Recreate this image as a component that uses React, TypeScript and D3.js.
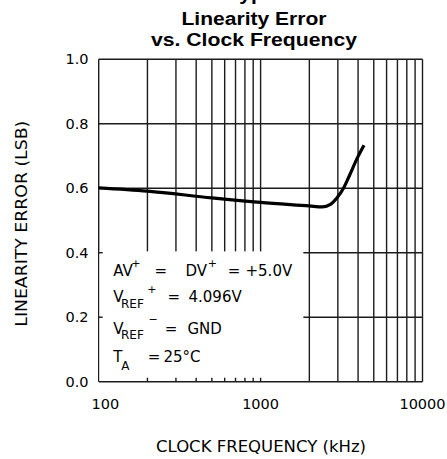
import { useMemo } from 'react';
import * as d3 from 'd3';

// values
const freqKHz = [100, 200, 500, 1000, 2000, 2400, 2700, 2950, 3250, 3550, 3900, 4350];
const linErrLSB = [0.601, 0.591, 0.57, 0.556, 0.545, 0.542, 0.55, 0.569, 0.6, 0.641, 0.687, 0.733];

const yTicks = [0, 0.2, 0.4, 0.6, 0.8, 1.0];
const xLabels = [100, 1000, 10000];

const W = 447;
const H = 459;
const INK = '#1c1c1c';
const mono = '"DejaVu Sans", sans-serif';
const bold = '"Liberation Sans", Arial, sans-serif';

export default function App() {
  const x = d3.scaleLog().domain([100, 10000]).range([98.7, 422.5]);
  const y = d3.scaleLinear().domain([0, 1]).range([381.7, 59.2]);

  // log grid: 1..9 in each decade
  const xGrid = x.ticks();
  const innerX = xGrid.filter((d) => d > 100 && d <= 1000);

  const path = useMemo(() => {
    const line = d3
      .line<number>()
      .x((_, i) => x(freqKHz[i]))
      .y((d) => y(d))
      .curve(d3.curveMonotoneX);
    return line(linErrLSB) ?? '';
  }, []);

  // white box that holds the conditions text
  const boxX0 = x(100) + 0.8;
  const boxX1 = x(2000) - 6;
  const boxY0 = y(0.4) - 1.3;
  const boxY1 = y(0) - 0.8;

  return (
    <svg
      width={W}
      height={H}
      style={{ position: 'absolute', left: 0, top: 0, background: '#fff' }}>
      {/* heading of the page above, mostly cut off */}
      <text x={228} y={-0.5} fontFamily={bold} fontWeight='bold' fontSize={21} fill='#000'>
        Typical Performance Characteristics
      </text>
      <text
        x={254}
        y={25}
        textAnchor='middle'
        fontFamily={bold}
        fontWeight='bold'
        fontSize={18}
        textLength={145}
        lengthAdjust='spacingAndGlyphs'
        fill='#000'>
        Linearity Error
      </text>
      <text
        x={254}
        y={45.5}
        textAnchor='middle'
        fontFamily={bold}
        fontWeight='bold'
        fontSize={18}
        textLength={206}
        lengthAdjust='spacingAndGlyphs'
        fill='#000'>
        vs. Clock Frequency
      </text>

      {/* grid */}
      <g stroke={INK} strokeWidth={1.4} fill='none'>
        {xGrid.map((d) => (
          <line key={'v' + d} x1={x(d)} x2={x(d)} y1={y(1)} y2={y(0)} />
        ))}
        {yTicks.map((d) => (
          <line key={'h' + d} x1={x(100)} x2={x(10000)} y1={y(d)} y2={y(d)} />
        ))}
      </g>

      <rect x={boxX0} y={boxY0} width={boxX1 - boxX0} height={boxY1 - boxY0} fill='#fff' />

      {/* ticks left visible round the box */}
      <g stroke={INK} strokeWidth={1.4}>
        {[0.2, 0.4].map((d) => (
          <line key={'lt' + d} x1={x(100)} x2={x(100) + 4} y1={y(d)} y2={y(d)} />
        ))}
        {innerX.map((d) => (
          <line key={'bt' + d} x1={x(d)} x2={x(d)} y1={y(0)} y2={y(0) - 4} />
        ))}
      </g>

      <path d={path} fill='none' stroke='#000' strokeWidth={3.2} />

      {/* conditions */}
      <g fontFamily={mono} fill='#000'>
        <text fontSize={15} y={275.5}>
          <tspan x={113.3}>AV</tspan>
          <tspan x={131.2} y={267} fontSize={11}>+</tspan>
          <tspan x={154.5} y={275.5}>=</tspan>
          <tspan x={185.5}>DV</tspan>
          <tspan x={207.8} y={267} fontSize={11}>+</tspan>
          <tspan x={227.8} y={275.5}>=</tspan>
          <tspan x={245.5}>+5.0V</tspan>
        </text>
        <text fontSize={15} y={302}>
          <tspan x={113.3}>V</tspan>
          <tspan x={121} y={307.8} fontSize={12}>REF</tspan>
          <tspan x={147.2} y={293} fontSize={11}>+</tspan>
          <tspan x={167.5} y={302}>=</tspan>
          <tspan x={188.5}>4.096V</tspan>
        </text>
        <text fontSize={15} y={333.5}>
          <tspan x={113.3}>V</tspan>
          <tspan x={121} y={339.3} fontSize={12}>REF</tspan>
          <tspan x={148.5} y={322.5} fontSize={11}>−</tspan>
          <tspan x={164.8} y={333.5}>=</tspan>
          <tspan x={187.5}>GND</tspan>
        </text>
        <text fontSize={15} y={362}>
          <tspan x={113.3}>T</tspan>
          <tspan x={121.2} y={370} fontSize={12}>A</tspan>
          <tspan x={147.8} y={362}>=</tspan>
          <tspan x={163.5}>25°C</tspan>
        </text>
      </g>

      {/* axes labels */}
      <g fontFamily={mono} fontSize={14.5} fill='#000'>
        {yTicks.map((d) => (
          <text key={'yl' + d} x={88.5} y={y(d) + 5.2} textAnchor='end'>
            {d.toFixed(1)}
          </text>
        ))}
        {xLabels.map((d, i) => (
          <text key={'xl' + d} x={x(d)} dx={i === 0 ? 6.6 : 0} y={409} textAnchor='middle'>
            {d}
          </text>
        ))}
      </g>
      <text
        x={261}
        y={451.5}
        textAnchor='middle'
        fontFamily={mono}
        fontSize={16}
        textLength={210}
        lengthAdjust='spacingAndGlyphs'
        fill='#000'>
        CLOCK FREQUENCY (kHz)
      </text>
      <text
        transform='translate(26.5,223.7) rotate(-90)'
        textAnchor='middle'
        fontFamily={mono}
        fontSize={16}
        textLength={206}
        lengthAdjust='spacingAndGlyphs'
        fill='#000'>
        LINEARITY ERROR (LSB)
      </text>
    </svg>
  );
}
